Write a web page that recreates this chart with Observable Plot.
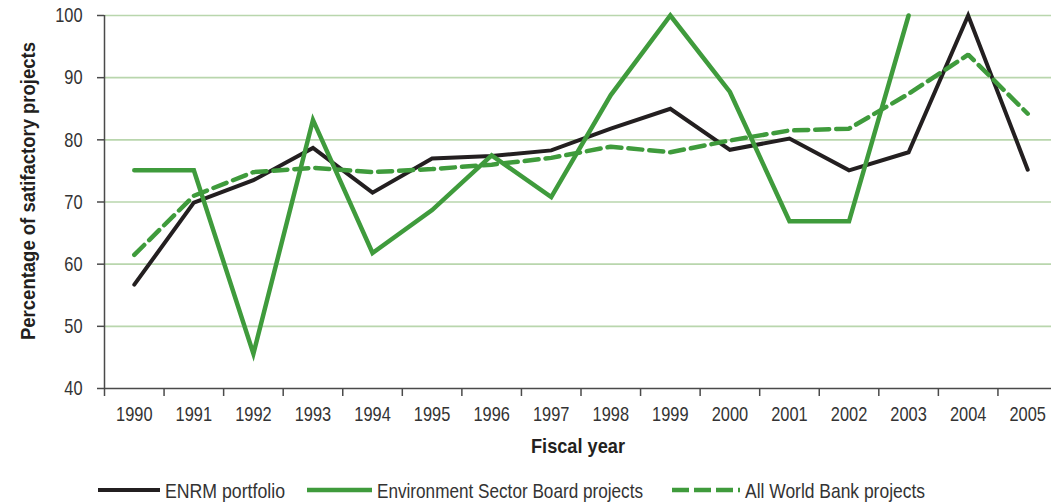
<!DOCTYPE html>
<html><head><meta charset="utf-8">
<script src="https://cdn.jsdelivr.net/npm/d3@7"></script>
<script src="https://cdn.jsdelivr.net/npm/@observablehq/plot@0.6"></script>
<style>
html,body{margin:0;padding:0;background:#fff;}
body{font-family:"Liberation Sans",Arial,sans-serif;color:#231f20;width:1051px;height:502px;overflow:hidden;position:relative;}
#chart svg{display:block;}
</style></head><body>
<div id="chart"></div>
<script>
const years = [1990,1991,1992,1993,1994,1995,1996,1997,1998,1999,2000,2001,2002,2003,2004,2005];
const enrm = [56.7,69.9,73.5,78.7,71.5,77.0,77.4,78.3,81.8,85.0,78.4,80.2,75.1,78.0,100,75.2];
const esb  = [75.1,75.1,45.6,83.2,61.8,68.7,77.5,70.8,87.2,100,87.7,66.9,66.9,100,null,null];
const wb   = [61.5,71.0,74.8,75.5,74.8,75.3,76.0,77.1,78.9,78.0,79.9,81.5,81.8,87.4,93.7,84.2];
const seriesNames = ["ENRM portfolio","Environment Sector Board projects","All World Bank projects"];
const yTicks = [40,50,60,70,80,90,100];
const xLabel = "Fiscal year";
const yLabel = "Percentage of satifactory projects";

const black = "#231f20", green = "#3f9b3c", grid = "#b9d6ad", axis = "#4a4a4a";
const font = '"Liberation Sans",Arial,sans-serif';

const data = years.map((y,i)=>({year:y, enrm:enrm[i], esb:esb[i], wb:wb[i]}));
const boundaries = d3.range(years.length+1).map(i => years[0]-0.5+i);

const chart = Plot.plot({
  width:1051, height:472,
  marginLeft:104, marginRight:0, marginTop:15, marginBottom:84,
  x:{domain:[years[0]-0.5, years[years.length-1]+0.5], range:[104,1057]},
  y:{domain:[40,100]},
  style:{fontFamily:font, fontSize:"21px", color:black, background:"#fff", overflow:"visible"},
  marks:[
    Plot.gridY(yTicks.slice(1), {stroke:grid, strokeOpacity:1, strokeWidth:1.6}),
    Plot.axisY(yTicks, {tickSize:7, tickPadding:15, label:null, stroke:axis, strokeWidth:1.5, fontSize:21, fill:"#333"}),
    Plot.axisX(years, {tickSize:0, tickPadding:18, tickFormat:d=>String(d), label:xLabel, labelAnchor:"center", labelArrow:"none", labelOffset:64, fontSize:21, fill:"#333"}),
    Plot.axisX(boundaries, {tickSize:8, tickFormat:()=>"", label:null, stroke:axis, strokeWidth:1.5}),
    Plot.ruleY([40], {stroke:axis, strokeWidth:1.5}),
    Plot.ruleX([years[0]-0.5], {y1:40, y2:100, stroke:axis, strokeWidth:1.5}),
    Plot.line(data, {x:"year", y:"enrm", stroke:black, strokeWidth:4, strokeLinejoin:"miter", strokeMiterlimit:10}),
    Plot.line(data, {x:"year", y:"wb", stroke:green, strokeWidth:4.5, strokeDasharray:"14,7", strokeLinejoin:"miter"}),
    Plot.line(data.filter(d=>d.esb!=null), {x:"year", y:"esb", stroke:green, strokeWidth:4.5, strokeLinejoin:"miter", strokeMiterlimit:10})
  ]
});
document.getElementById("chart").appendChild(chart);
const root = d3.select(chart);

// style x axis label bold
root.selectAll("text").filter(function(){return this.textContent===xLabel;})
  .attr("font-weight","bold").attr("fill",black).attr("data-len",94);

// y axis label, rotated
root.append("text")
  .attr("transform","translate(35,191) rotate(-90)")
  .attr("text-anchor","middle")
  .attr("font-family",font).attr("font-size",21).attr("font-weight","bold").attr("fill",black)
  .attr("data-len",298)
  .text(yLabel);

// legend (SVG below the plot)
const lsvg = d3.select("body").append("svg").attr("width",1051).attr("height",30)
  .style("display","block").attr("font-family",font).attr("font-size",21);
const items = [
  {name:seriesNames[0], left:98, w:62, color:black, dash:null, sw:4, len:120},
  {name:seriesNames[1], left:307, w:65, color:green, dash:null, sw:4.5, len:266},
  {name:seriesNames[2], left:672, w:68, color:green, dash:"17,5", sw:4.5, len:180}
];
items.forEach(it=>{
  lsvg.append("line").attr("x1",it.left).attr("x2",it.left+it.w).attr("y1",18).attr("y2",18)
    .attr("stroke",it.color).attr("stroke-width",it.sw).attr("stroke-dasharray",it.dash);
  lsvg.append("text").attr("x",it.left+it.w+5).attr("y",25.5).attr("fill","#333")
    .attr("data-len",it.len).text(it.name);
});

// condensed look: compress glyphs horizontally
const ratio = 0.78;
d3.selectAll("svg text").each(function(){
  const t = this;
  if (!t.textContent) return;
  const fixed = t.getAttribute("data-len");
  const L = fixed ? +fixed : t.getComputedTextLength()*ratio;
  t.setAttribute("textLength", L);
  t.setAttribute("lengthAdjust","spacingAndGlyphs");
});
</script>
</body></html>
